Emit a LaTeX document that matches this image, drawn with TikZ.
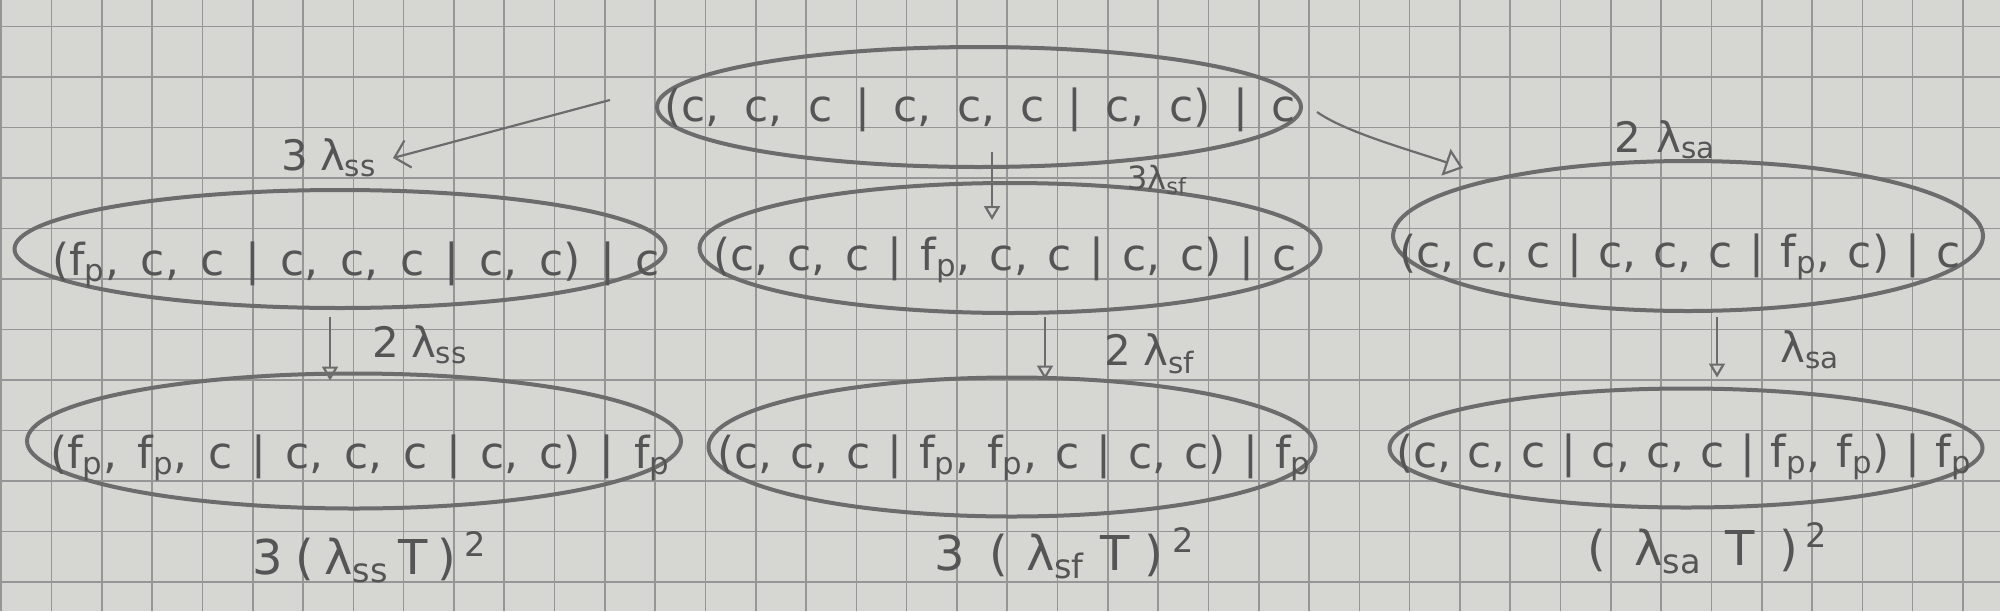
\documentclass[tikz,border=0pt]{standalone}
\usepackage{fontspec}
\setmainfont{DejaVu Sans}
\usetikzlibrary{arrows.meta,shapes.geometric,calc}
\definecolor{paper}{RGB}{214,214,211}
\definecolor{gridc}{RGB}{150,150,150}
\definecolor{pencil}{RGB}{108,108,108}
\definecolor{ink}{RGB}{85,85,85}
\newcommand{\fp}{f\textsubscript{p}}
\begin{document}
\begin{tikzpicture}[x=0.5pt,y=-0.5pt,
  state/.style={draw=pencil, line width=2pt, ellipse, inner sep=0pt, outer sep=0pt},
  stxt/.style={text=ink, font=\fontsize{22}{26}\selectfont, inner sep=0pt},
  lbl/.style={text=ink, font=\fontsize{21}{24}\selectfont, inner sep=0pt},
  plbl/.style={text=ink, font=\fontsize{24}{28}\selectfont, inner sep=0pt},
  slbl/.style={text=ink, font=\fontsize{16}{18}\selectfont, inner sep=0pt},
  arr/.style={draw=pencil, line width=1.1pt, -{Triangle[open,length=7pt,width=8pt]}},
  arrbig/.style={draw=pencil, line width=1.1pt, -{Triangle[open,length=9pt,width=14pt]}},
  barb/.style={draw=pencil, line width=1.1pt, -{Straight Barb[length=7pt,width=14pt]}},
]
\fill[paper] (0,0) rectangle (2000,611);
\useasboundingbox (0,0) rectangle (2000,611);
\foreach \k in {0,...,39} \draw[gridc, line width=0.8pt] ({1.2+50.3*\k},0) -- ({1.2+50.3*\k},611);
\foreach \k in {0,...,11} \draw[gridc, line width=0.8pt] (0,{26.5+50.5*\k}) -- (2000,{26.5+50.5*\k});

% states (ellipses)
\node[state, minimum width=322pt, minimum height=60pt] (top) at (979,107) {};
\node[state, minimum width=325.5pt, minimum height=59pt] (midl) at (340,249) {};
\node[state, minimum width=310.5pt, minimum height=65pt] (midc) at (1010,248) {};
\node[state, minimum width=295pt, minimum height=75pt] (midr) at (1688,236) {};
\node[state, minimum width=327pt, minimum height=67.5pt] (botl) at (354,441) {};
\node[state, minimum width=303.5pt, minimum height=69.5pt] (botc) at (1012,447) {};
\node[state, minimum width=296.5pt, minimum height=59.5pt] (botr) at (1686,448) {};

% state texts
\node[stxt] (t0) at (980,110) {\makebox[316pt][s]{(c, c, c | c, c, c | c, c) | c}};
\node[stxt] (t1) at (356,265) {\makebox[304pt][s]{(\fp, c, c | c, c, c | c, c) | c}};
\node[stxt] (t2) at (1005,260) {\makebox[292pt][s]{(c, c, c | \fp, c, c | c, c) | c}};
\node[stxt] (t3) at (1680,257) {\makebox[281pt][s]{(c, c, c | c, c, c | \fp, c) | c}};
\node[stxt] (t4) at (360,458) {\makebox[310pt][s]{(\fp, \fp, c | c, c, c | c, c) | \fp}};
\node[stxt] (t5) at (1014,458) {\makebox[297pt][s]{(c, c, c | \fp, \fp, c | c, c) | \fp}};
\node[stxt] (t6) at (1684,457) {\makebox[288pt][s]{(c, c, c | c, c, c | \fp, \fp) | \fp}};

% rate labels
\node[lbl] (lss) at (329,158) {3\hspace{6pt}λ\textsubscript{ss}};
\node[slbl] (lsf) at (1157,180) {3λ\textsubscript{sf}};
\node[lbl] (lsa) at (1665,140) {2\hspace{8pt}λ\textsubscript{sa}};
\node[lbl] (l2ss) at (420,345) {2\hspace{6pt}λ\textsubscript{ss}};
\node[lbl] (l2sf) at (1150,354) {2\hspace{6pt}λ\textsubscript{sf}};
\node[lbl] (l1sa) at (1810,350) {λ\textsubscript{sa}};
\node[plbl] (p1) at (370,557) {3\hspace{6pt}(\hspace{5pt}λ\textsubscript{ss}\hspace{5pt}T\hspace{5pt})\hspace{4pt}\textsuperscript{2}};
\node[plbl] (p2) at (1065,553) {3\hspace{12pt}(\hspace{9pt}λ\textsubscript{sf}\hspace{8pt}T\hspace{7pt})\hspace{5pt}\textsuperscript{2}};
\node[plbl] (p3) at (1708,548) {(\hspace{14pt}λ\textsubscript{sa}\hspace{12pt}T\hspace{12pt})\hspace{4pt}\textsuperscript{2}};

% connectors
\draw[barb] ($(top.west)+(-47,-7)$) -- ($(lss.east)+(16,0)$);
\draw[arr] ($(top.south)+(13,-15)$) -- ($(midc.north)+(-18,37)$);
\draw[arrbig] ($(top.east)+(16,5)$) .. controls +(28,20) and +(-53,-18) .. ($(midr.west)+(70,-68)$);
\draw[arr] ($(midl.south)+(-10,9)$) -- ($(botl.north)+(-24,7)$);
\draw[arr] ($(midc.south)+(35,4)$) -- ($(botc.north)+(33,2)$);
\draw[arr] ($(midr.south)+(29,6)$) -- ($(botr.north)+(31,-11)$);
\end{tikzpicture}
\end{document}
